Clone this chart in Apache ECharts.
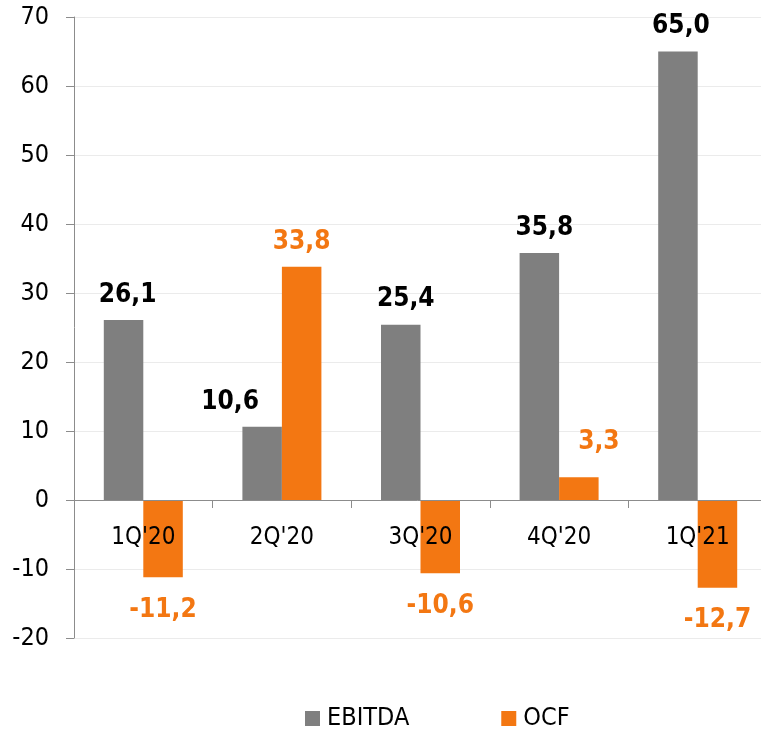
<!DOCTYPE html>
<html>
<head>
<meta charset="utf-8">
<script src="https://cdn.jsdelivr.net/npm/echarts@6/dist/echarts.min.js"></script>
<style>
html,body{margin:0;padding:0;background:#fff;}
#chart{width:761px;height:729px;}
</style>
</head>
<body>
<div id="chart"></div>
<script>
var categories = ["1Q'20", "2Q'20", "3Q'20", "4Q'20", "1Q'21"];
var ebitdaValues = [26.1, 10.6, 25.4, 35.8, 65.0];
var ocfValues = [-11.2, 33.8, -10.6, 3.3, -12.7];
var seriesNames = ["EBITDA", "OCF"];
var yMin = -20, yMax = 70, yStep = 10;

var FONT = '"DejaVu Sans Condensed", "DejaVu Sans", sans-serif';
var GRAY = '#7f7f7f';
var ORANGE = '#f37712';

// label nudges [dx, dy] (styling only)
var ebitdaLabelNudge = [[4,0],[-32,0],[5,0],[5,0],[3,0]];
var ocfLabelNudge = [[0,8],[0,0],[0,8],[20,-10],[0,8]];

var GRID_TOP = 17, GRID_BOTTOM = 91, CH = 729;
var plotH = CH - GRID_TOP - GRID_BOTTOM;
// move the category axis up so it sits on the zero line
var zeroOffset = -plotH * (0 - yMin) / (yMax - yMin);

function fmt(v){ return v.toFixed(1).replace('.', ','); }

function buildData(values, nudges){
  return values.map(function(v, i){
    return {
      value: v,
      label: {
        position: v >= 0 ? 'top' : 'bottom',
        offset: nudges[i]
      }
    };
  });
}

var chart = echarts.init(document.getElementById('chart'), null, {renderer:'canvas'});
chart.setOption({
  animation: false,
  textStyle: {fontFamily: FONT},
  grid: {left: 74, right: -6, top: GRID_TOP, bottom: GRID_BOTTOM, containLabel: false, outerBoundsMode: 'none'},
  legend: {
    left: 300, top: 701,
    icon: 'rect', itemWidth: 15, itemHeight: 15, itemGap: 92,
    textStyle: {fontFamily: FONT, fontSize: 25, color: '#000', padding: [0,0,0,2]},
    data: seriesNames
  },
  xAxis: {
    type: 'category',
    data: categories,
    z: 5,
    position: 'bottom',
    offset: zeroOffset,
    axisLine: {onZero: false, lineStyle: {color: '#8c8c8c', width: 1}},
    axisTick: {show: true, length: 8, lineStyle: {color: '#8c8c8c'}},
    axisLabel: {fontFamily: FONT, fontSize: 24, color: '#000', margin: 26},
    splitLine: {show: false}
  },
  yAxis: {
    type: 'value',
    min: yMin, max: yMax, interval: yStep,
    axisLine: {show: true, lineStyle: {color: '#8c8c8c', width: 1}},
    axisTick: {show: true, length: 8, lineStyle: {color: '#8c8c8c'}},
    axisLabel: {fontFamily: FONT, fontSize: 25, color: '#000', margin: 25},
    splitLine: {show: true, lineStyle: {color: '#ebebeb', width: 1}}
  },
  series: [
    {
      name: seriesNames[0], type: 'bar', barWidth: 39.5, barGap: '0%',
      itemStyle: {color: GRAY},
      label: {show: true, distance: 12, fontFamily: FONT, fontSize: 26, fontWeight: 'bold', color: '#000',
        formatter: function(p){ return fmt(p.value); }},
      data: buildData(ebitdaValues, ebitdaLabelNudge)
    },
    {
      name: seriesNames[1], type: 'bar', barWidth: 39.5, barGap: '0%',
      itemStyle: {color: ORANGE},
      label: {show: true, distance: 12, fontFamily: FONT, fontSize: 26, fontWeight: 'bold', color: ORANGE,
        formatter: function(p){ return fmt(p.value); }},
      data: buildData(ocfValues, ocfLabelNudge)
    }
  ]
});
</script>
</body>
</html>
